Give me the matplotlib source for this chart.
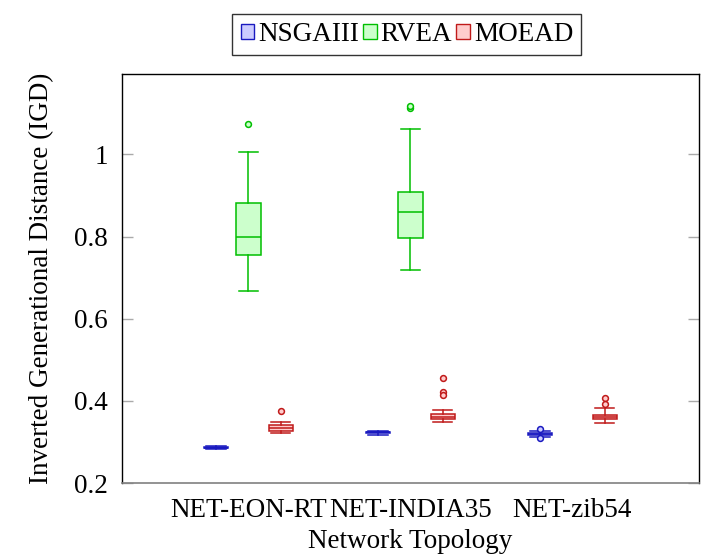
import matplotlib.pyplot as plt
from matplotlib.patches import Patch
from matplotlib.ticker import FuncFormatter

plt.rcParams['font.family'] = ['Liberation Serif', 'DejaVu Serif']
plt.rcParams['font.size'] = 19.5

# Data
topologies = ["NET-EON-RT", "NET-INDIA35", "NET-zib54"]
algorithms = ["NSGAIII", "RVEA", "MOEAD"]

# box statistics per algorithm, one entry per topology (None = no data)
nsga_whislo = [0.283, 0.318, 0.312]
nsga_q1 = [0.285, 0.321, 0.316]
nsga_med = [0.286, 0.323, 0.319]
nsga_q3 = [0.287, 0.325, 0.322]
nsga_whishi = [0.289, 0.327, 0.326]
nsga_fliers = [[], [], [0.332, 0.309]]

rvea_whislo = [0.667, 0.718, None]
rvea_q1 = [0.756, 0.797, None]
rvea_med = [0.800, 0.860, None]
rvea_q3 = [0.882, 0.909, None]
rvea_whishi = [1.005, 1.063, None]
rvea_fliers = [[1.075], [1.113, 1.118], []]

moead_whislo = [0.321, 0.348, 0.345]
moead_q1 = [0.327, 0.355, 0.355]
moead_med = [0.333, 0.361, 0.360]
moead_q3 = [0.341, 0.367, 0.366]
moead_whishi = [0.348, 0.378, 0.382]
moead_fliers = [[0.375], [0.456, 0.421, 0.414], [0.408, 0.392]]

edge_colors = ["#1a1ac0", "#00bf00", "#c01a1a"]
fill_colors = ["#ccccff", "#ccffcc", "#ffcccc"]

series = [
    (nsga_whislo, nsga_q1, nsga_med, nsga_q3, nsga_whishi, nsga_fliers),
    (rvea_whislo, rvea_q1, rvea_med, rvea_q3, rvea_whishi, rvea_fliers),
    (moead_whislo, moead_q1, moead_med, moead_q3, moead_whishi, moead_fliers),
]

fig = plt.figure(figsize=(7.04, 5.55), dpi=100)
ax = fig.add_axes([0.1729, 0.1297, 0.8200, 0.7364])

for a, (wlo, q1, med, q3, whi, fl) in enumerate(series):
    stats, pos = [], []
    for g in range(len(topologies)):
        if med[g] is None:
            continue
        stats.append(dict(whislo=wlo[g], q1=q1[g], med=med[g], q3=q3[g],
                          whishi=whi[g], fliers=fl[g]))
        pos.append(1 + 5 * g + a)
    ec, fc = edge_colors[a], fill_colors[a]
    ax.bxp(stats, positions=pos, widths=0.75, capwidths=0.6, patch_artist=True,
           boxprops=dict(facecolor=fc, edgecolor=ec, linewidth=1.1),
           medianprops=dict(color=ec, linewidth=1.1),
           whiskerprops=dict(color=ec, linewidth=1.1),
           capprops=dict(color=ec, linewidth=1.1),
           flierprops=dict(marker='o', markersize=4.2, markerfacecolor=fc,
                           markeredgecolor=ec, markeredgewidth=1.1),
           manage_ticks=False)

ax.set_xlim(-1.91, 15.91)
ax.set_ylim(0.2, 1.195)
ax.set_yticks([0.2, 0.4, 0.6, 0.8, 1.0])
ax.yaxis.set_major_formatter(FuncFormatter(lambda v, p: "%g" % round(v, 2)))
ax.set_xticks([2, 7, 12])
ax.set_xticklabels(topologies)

ax.tick_params(axis='y', direction='in', length=8, width=1, color='#aaaaaa',
               left=True, right=True, pad=10)
ax.tick_params(axis='x', length=0, pad=11)
for s in ['left', 'right', 'top']:
    ax.spines[s].set_color('black')
    ax.spines[s].set_linewidth(1.0)
ax.spines['bottom'].set_color('#808080')
ax.spines['bottom'].set_linewidth(1.2)

ax.set_xlabel("Network Topology", labelpad=4)
ax.set_ylabel("Inverted Generational Distance (IGD)", labelpad=14)

handles = [Patch(facecolor=fill_colors[i], edgecolor=edge_colors[i], linewidth=1.0)
           for i in range(len(algorithms))]
leg = fig.legend(handles, algorithms, loc='center', bbox_to_anchor=(0.578, 0.938),
                 ncol=3, frameon=True, fancybox=False, edgecolor='black',
                 handlelength=0.5, handleheight=0.5, handletextpad=0.15,
                 columnspacing=0.15, borderpad=0.3, borderaxespad=0)
leg.get_frame().set_linewidth(1.0)

fig.savefig("out.png", dpi=100)
